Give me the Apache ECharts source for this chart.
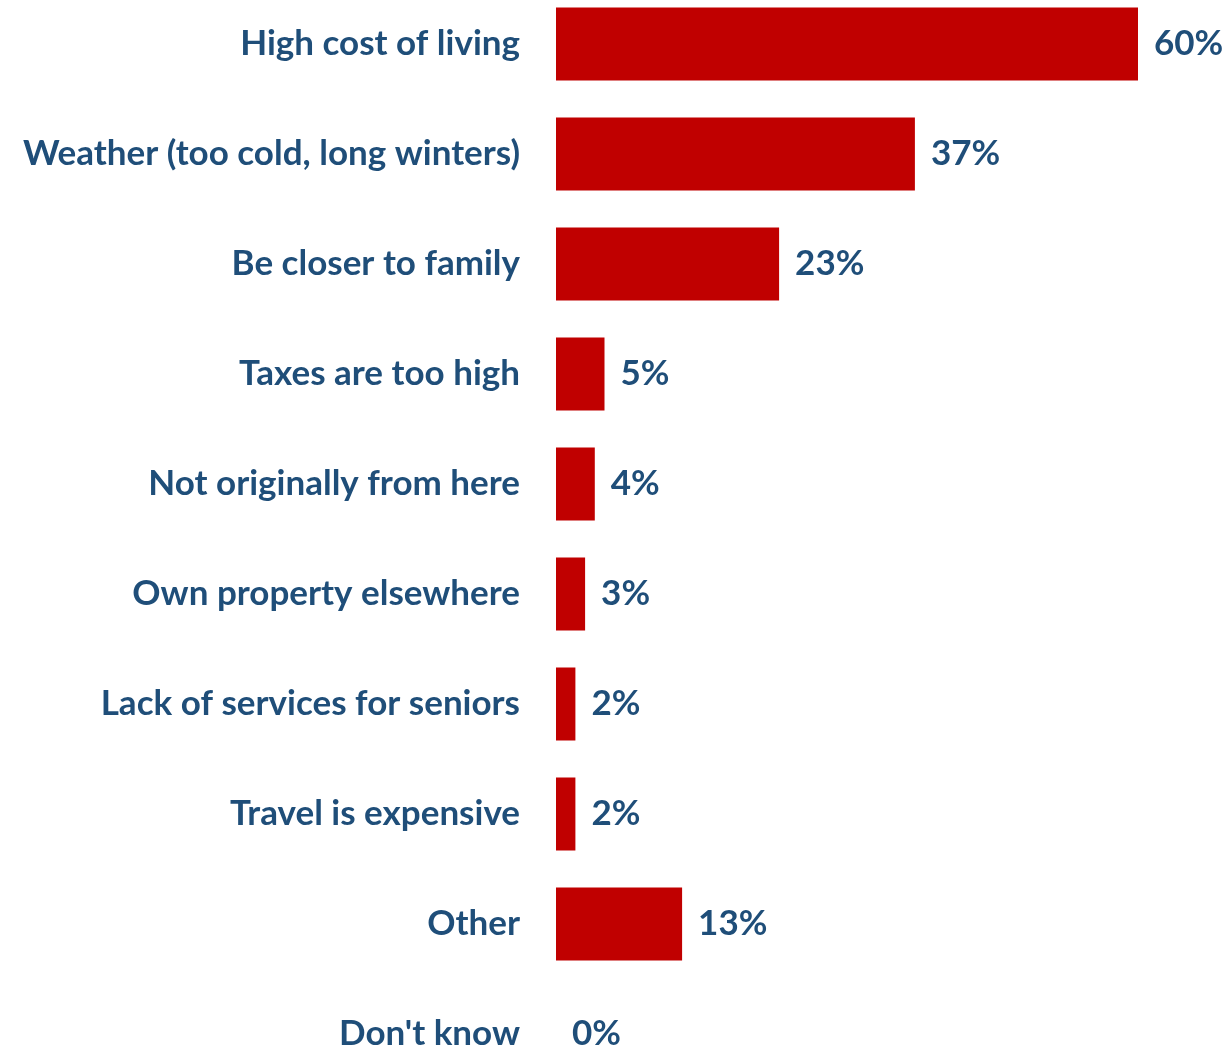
<!DOCTYPE html>
<html>
<head>
<meta charset="utf-8">
<script src="https://cdn.jsdelivr.net/npm/echarts@6/dist/echarts.min.js"></script>
<style>
  html, body { margin: 0; padding: 0; background: #ffffff; overflow: hidden; }
  #chart { width: 1226px; height: 1100px; margin-top: -11px; }
</style>
</head>
<body>
<div id="chart"></div>
<script>
// Reasons for leaving, share of respondents (%)
const reasons = [
  "High cost of living",
  "Weather (too cold, long winters)",
  "Be closer to family",
  "Taxes are too high",
  "Not originally from here",
  "Own property elsewhere",
  "Lack of services for seniors",
  "Travel is expensive",
  "Other",
  "Don't know"
];
const shares = [60, 37, 23, 5, 4, 3, 2, 2, 13, 0];

const textColor = "#1F4E79";
const barColor = "#C00000";
const fontFamily = "Lato, 'Open Sans', sans-serif";

const chart = echarts.init(document.getElementById("chart"));
chart.setOption({
  animation: false,
  grid: { left: 556, right: 88, top: 0, bottom: 0, containLabel: false },
  xAxis: {
    type: "value",
    min: 0,
    max: 60,
    show: false
  },
  yAxis: {
    type: "category",
    data: reasons,
    inverse: true,
    axisLine: { show: false },
    axisTick: { show: false },
    splitLine: { show: false },
    axisLabel: {
      margin: 36,
      color: textColor,
      fontFamily: fontFamily,
      fontWeight: "bold",
      fontSize: 35
    }
  },
  series: [{
    type: "bar",
    data: shares,
    barWidth: 73,
    itemStyle: { color: barColor },
    label: {
      show: true,
      position: "right",
      distance: 16,
      formatter: "{c}%",
      color: textColor,
      fontFamily: fontFamily,
      fontWeight: "bold",
      fontSize: 35
    }
  }]
});
</script>
</body>
</html>
